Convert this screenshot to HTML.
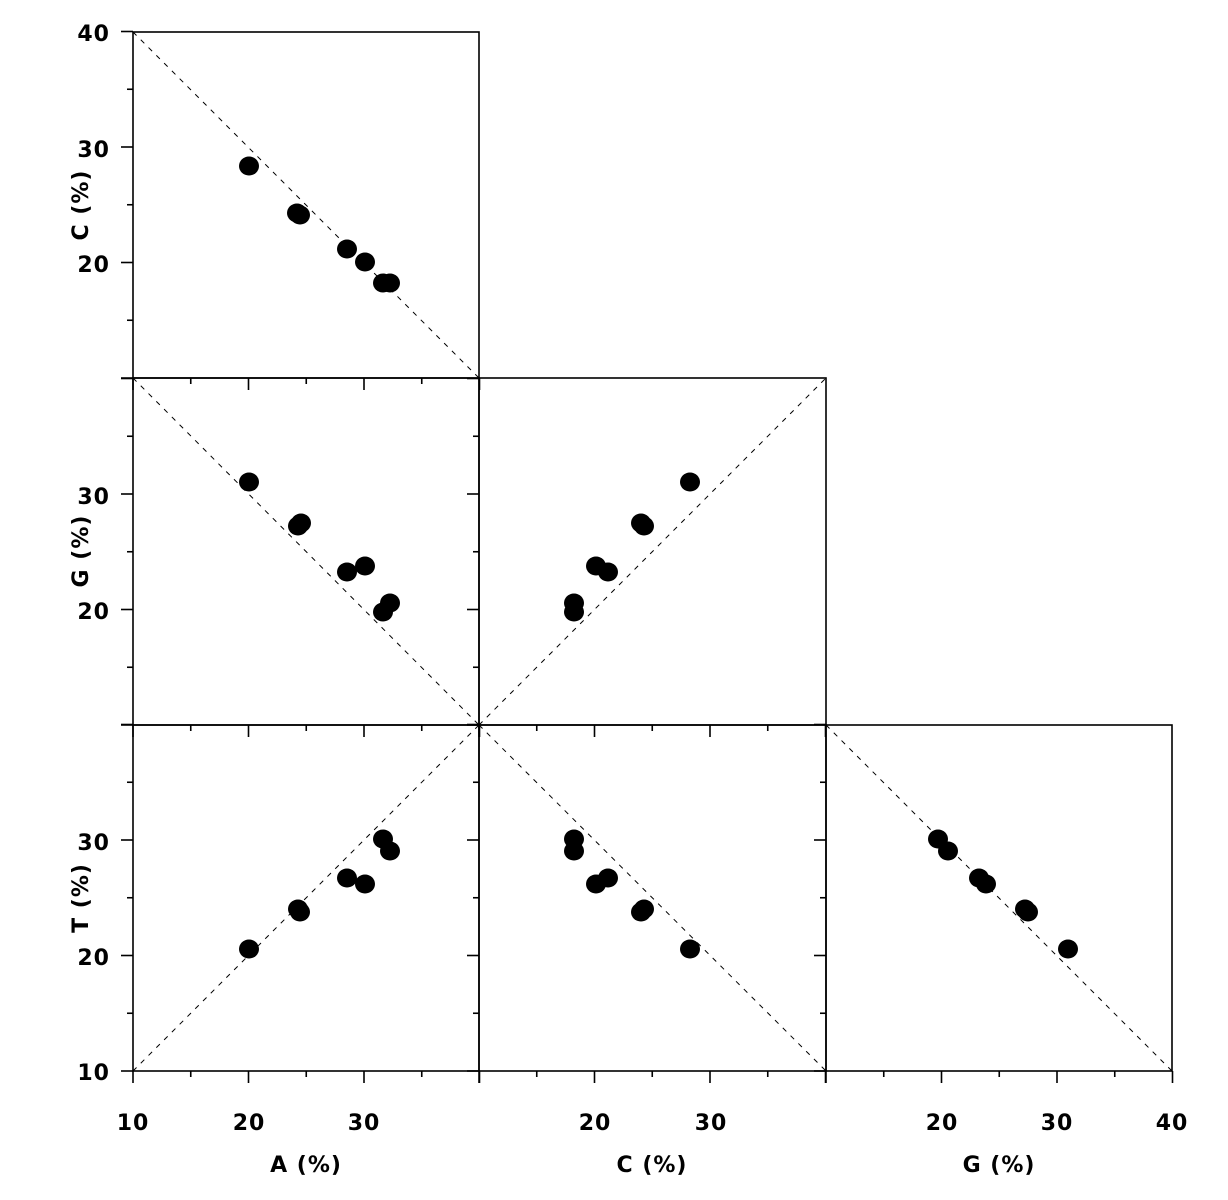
<!DOCTYPE html>
<html><head><meta charset="utf-8"><style>
html,body{margin:0;padding:0;background:#fff;}
svg{display:block;}
text{font-family:"DejaVu Sans","Liberation Sans",sans-serif;font-size:22px;fill:#000;font-weight:bold;letter-spacing:1px;}
</style></head><body>
<svg width="1228" height="1200" viewBox="0 0 1228 1200" xmlns="http://www.w3.org/2000/svg">
<defs>
<g id="tk" stroke="#000" stroke-width="1.6">
<line x1="0" y1="0" x2="0" y2="12"/><line x1="57.75" y1="0" x2="57.75" y2="6"/><line x1="115.5" y1="0" x2="115.5" y2="12"/><line x1="173.25" y1="0" x2="173.25" y2="6"/><line x1="231" y1="0" x2="231" y2="12"/><line x1="288.75" y1="0" x2="288.75" y2="6"/><line x1="346.5" y1="0" x2="346.5" y2="12"/>
<line x1="-12" y1="0" x2="0" y2="0"/><line x1="-6" y1="-57.75" x2="0" y2="-57.75"/><line x1="-12" y1="-115.5" x2="0" y2="-115.5"/><line x1="-6" y1="-173.25" x2="0" y2="-173.25"/><line x1="-12" y1="-231" x2="0" y2="-231"/><line x1="-6" y1="-288.75" x2="0" y2="-288.75"/><line x1="-12" y1="-346.5" x2="0" y2="-346.5"/>
</g>
</defs>
<use href="#tk" x="133" y="378"/>
<use href="#tk" x="133" y="725"/>
<use href="#tk" x="479" y="725"/>
<use href="#tk" x="133" y="1071"/>
<use href="#tk" x="479" y="1071"/>
<use href="#tk" x="826" y="1071"/>
<g stroke="#000" stroke-width="1.6" fill="none">
<rect x="133" y="32" width="346" height="346"/>
<rect x="133" y="378" width="346" height="347"/>
<rect x="479" y="378" width="347" height="347"/>
<rect x="133" y="725" width="346" height="346"/>
<rect x="479" y="725" width="347" height="346"/>
<rect x="826" y="725" width="346" height="346"/>
</g>
<g stroke="#000" stroke-width="1" stroke-dasharray="5,6" fill="none">
<line x1="133" y1="32" x2="479" y2="378"/>
<line x1="133" y1="378" x2="479" y2="725"/>
<line x1="479" y1="725" x2="826" y2="378"/>
<line x1="133" y1="1071" x2="479" y2="725"/>
<line x1="479" y1="725" x2="826" y2="1071"/>
<line x1="826" y1="725" x2="1172" y2="1071"/>
</g>
<g fill="#000">
<ellipse cx="249" cy="166" rx="10" ry="9.5"/><ellipse cx="297" cy="213" rx="10" ry="9.5"/><ellipse cx="300" cy="215" rx="10" ry="9.5"/><ellipse cx="347" cy="249" rx="10" ry="9.5"/><ellipse cx="365" cy="262" rx="10" ry="9.5"/><ellipse cx="383" cy="283" rx="10" ry="9.5"/><ellipse cx="390" cy="283" rx="10" ry="9.5"/>
<ellipse cx="249" cy="482" rx="10" ry="9.5"/><ellipse cx="298" cy="526" rx="10" ry="9.5"/><ellipse cx="301" cy="523" rx="10" ry="9.5"/><ellipse cx="347" cy="572" rx="10" ry="9.5"/><ellipse cx="365" cy="566" rx="10" ry="9.5"/><ellipse cx="383" cy="612" rx="10" ry="9.5"/><ellipse cx="390" cy="603" rx="10" ry="9.5"/>
<ellipse cx="690" cy="482" rx="10" ry="9.5"/><ellipse cx="641" cy="523" rx="10" ry="9.5"/><ellipse cx="644" cy="526" rx="10" ry="9.5"/><ellipse cx="596" cy="566" rx="10" ry="9.5"/><ellipse cx="608" cy="572" rx="10" ry="9.5"/><ellipse cx="574" cy="603" rx="10" ry="9.5"/><ellipse cx="574" cy="612" rx="10" ry="9.5"/>
<ellipse cx="249" cy="949" rx="10" ry="9.5"/><ellipse cx="298" cy="909" rx="10" ry="9.5"/><ellipse cx="300" cy="912" rx="10" ry="9.5"/><ellipse cx="347" cy="878" rx="10" ry="9.5"/><ellipse cx="365" cy="884" rx="10" ry="9.5"/><ellipse cx="383" cy="839" rx="10" ry="9.5"/><ellipse cx="390" cy="851" rx="10" ry="9.5"/>
<ellipse cx="690" cy="949" rx="10" ry="9.5"/><ellipse cx="641" cy="912" rx="10" ry="9.5"/><ellipse cx="644" cy="909" rx="10" ry="9.5"/><ellipse cx="596" cy="884" rx="10" ry="9.5"/><ellipse cx="608" cy="878" rx="10" ry="9.5"/><ellipse cx="574" cy="839" rx="10" ry="9.5"/><ellipse cx="574" cy="851" rx="10" ry="9.5"/>
<ellipse cx="1068" cy="949" rx="10" ry="9.5"/><ellipse cx="1025" cy="909" rx="10" ry="9.5"/><ellipse cx="1028" cy="912" rx="10" ry="9.5"/><ellipse cx="979" cy="878" rx="10" ry="9.5"/><ellipse cx="986" cy="884" rx="10" ry="9.5"/><ellipse cx="938" cy="839" rx="10" ry="9.5"/><ellipse cx="948" cy="851" rx="10" ry="9.5"/>
</g>
<g text-anchor="end">
<text x="110" y="41">40</text><text x="110" y="157">30</text><text x="110" y="272">20</text>
<text x="110" y="504">30</text><text x="110" y="619">20</text>
<text x="110" y="850">30</text><text x="110" y="965">20</text><text x="110" y="1080">10</text>
</g>
<g text-anchor="middle">
<text x="133" y="1130">10</text><text x="249" y="1130">20</text><text x="364" y="1130">30</text>
<text x="595" y="1130">20</text><text x="711" y="1130">30</text>
<text x="942" y="1130">20</text><text x="1057" y="1130">30</text><text x="1172" y="1130">40</text>
<text x="306" y="1172">A (%)</text><text x="652" y="1172">C (%)</text><text x="999" y="1172">G (%)</text>
<text transform="translate(88,205) rotate(-90)">C (%)</text>
<text transform="translate(88,551) rotate(-90)">G (%)</text>
<text transform="translate(88,898) rotate(-90)">T (%)</text>
</g>
</svg>
</body></html>
